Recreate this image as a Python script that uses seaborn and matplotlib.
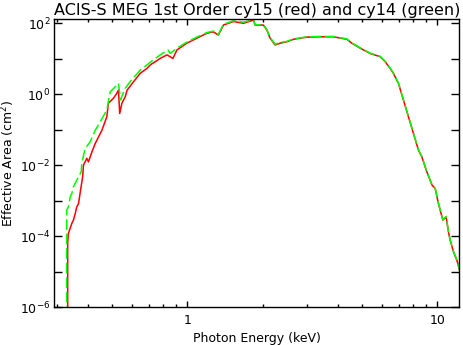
import numpy as np
import pandas as pd
import matplotlib
matplotlib.use('Agg')
import matplotlib.pyplot as plt
import seaborn as sns
from matplotlib.ticker import NullFormatter

# Effective area (energy in keV, log10 of area in cm^2)
energy_cy15 = [0.332, 0.332, 0.334, 0.345, 0.350, 0.356, 0.361, 0.367, 0.372, 0.381,
               0.384, 0.396, 0.402, 0.415, 0.428, 0.455, 0.476, 0.483, 0.506, 0.522,
               0.530, 0.536, 0.547, 0.564, 0.574, 0.609, 0.647, 0.689, 0.711, 0.778,
               0.828, 0.853, 0.875, 0.908, 0.995, 1.091, 1.196, 1.270, 1.330, 1.393,
               1.528, 1.675, 1.837, 1.866, 2.014, 2.078, 2.142, 2.243, 2.349, 2.498,
               2.655, 3.006, 3.396, 3.837, 4.342, 4.547, 4.909, 5.383, 5.902, 6.180,
               6.471, 6.668, 6.982, 7.311, 7.656, 8.017, 8.395, 8.665, 9.016, 9.506,
               9.795, 10.09, 10.51, 10.83, 11.07, 11.24, 11.59, 11.96, 12.3]
log_area_cy15 = [-8.0, -4.19, -3.92, -3.63, -3.54, -3.35, -3.17, -3.07, -2.79, -2.32,
                 -1.99, -1.80, -1.90, -1.62, -1.38, -1.01, -0.63, -0.25, -0.11, 0.03,
                 0.12, -0.54, -0.25, -0.07, 0.12, 0.355, 0.59, 0.73, 0.83, 1.01,
                 1.11, 1.06, 1.01, 1.25, 1.44, 1.58, 1.72, 1.76, 1.67, 1.95,
                 2.05, 2.00, 2.09, 1.95, 1.95, 1.81, 1.58, 1.39, 1.44, 1.48,
                 1.55, 1.61, 1.62, 1.62, 1.55, 1.44, 1.30, 1.15, 1.06, 0.92,
                 0.73, 0.59, 0.31, -0.16, -0.63, -1.10, -1.57, -1.76, -2.13, -2.55,
                 -2.65, -3.07, -3.54, -3.45, -3.87, -4.10, -4.43, -4.67, -4.98]

energy_cy14 = [0.329, 0.329, 0.334, 0.340, 0.345, 0.350, 0.367, 0.376, 0.378, 0.390,
               0.408, 0.428, 0.448, 0.476, 0.491, 0.514, 0.530, 0.540, 0.553, 0.564,
               0.590, 0.647, 0.731, 0.778, 0.835, 0.853, 0.908, 0.995, 1.091, 1.196,
               1.270, 1.330, 1.393, 1.528, 1.675, 1.837, 1.866, 2.014, 2.078, 2.142,
               2.243, 2.349, 2.498, 2.655, 3.006, 3.396, 3.837, 4.342, 4.547, 4.909,
               5.383, 5.902, 6.180, 6.471, 6.668, 6.982, 7.311, 7.656, 8.017, 8.395,
               8.665, 9.016, 9.506, 9.795, 10.09, 10.51, 10.83, 11.07, 11.24, 11.59,
               11.96, 12.3]
log_area_cy14 = [-8.0, -3.26, -3.17, -2.88, -2.79, -2.60, -2.32, -2.18, -1.94, -1.52,
                 -1.34, -1.01, -0.77, -0.44, 0.07, 0.21, 0.31, -0.16, 0.03, 0.17,
                 0.355, 0.68, 0.97, 1.11, 1.25, 1.15, 1.30, 1.47, 1.61, 1.74,
                 1.78, 1.69, 1.97, 2.07, 2.03, 2.10, 1.96, 1.96, 1.82, 1.60,
                 1.41, 1.46, 1.49, 1.56, 1.62, 1.63, 1.63, 1.56, 1.45, 1.31,
                 1.16, 1.07, 0.93, 0.74, 0.60, 0.32, -0.15, -0.62, -1.09, -1.56,
                 -1.75, -2.12, -2.54, -2.64, -3.06, -3.53, -3.44, -3.86, -4.09, -4.42,
                 -4.66, -4.97]

x_major = [1, 10]
x_major_labels = ['1', '10']
x_minor = [0.3, 0.4, 0.5, 0.6, 0.7, 0.8, 0.9, 2, 3, 4, 5, 6, 7, 8, 9]
y_major = [1e-6, 1e-4, 1e-2, 1e0, 1e2]
y_major_labels = [r'$10^{-6}$', r'$10^{-4}$', r'$10^{-2}$', r'$10^{0}$', r'$10^{2}$']
y_minor = [1e-5, 1e-3, 1e-1, 1e1]

cy15 = pd.DataFrame({'energy': energy_cy15, 'area': 10.0 ** np.array(log_area_cy15)})
cy14 = pd.DataFrame({'energy': energy_cy14, 'area': 10.0 ** np.array(log_area_cy14)})

sns.set_style('ticks')
plt.rcParams['font.family'] = ['DejaVu Sans']
plt.rcParams['text.color'] = 'black'
plt.rcParams['axes.labelcolor'] = 'black'

fig = plt.figure(figsize=(4.63, 3.45), dpi=100)
ax = fig.add_axes([0.1177, 0.1087, 0.8737, 0.8362])

sns.lineplot(data=cy15, x='energy', y='area', sort=False, estimator=None,
             color='#ff0000', lw=1.1, ax=ax)
sns.lineplot(data=cy14, x='energy', y='area', sort=False, estimator=None,
             color='#00ff00', lw=1.1, linestyle=(0, (7, 2.5)), ax=ax)

ax.set_xscale('log')
ax.set_yscale('log')
ax.set_xlim(0.294, 12.2)
ax.set_ylim(1e-6, 132)

ax.set_xticks(x_major, labels=x_major_labels)
ax.set_xticks(x_minor, minor=True)
ax.xaxis.set_minor_formatter(NullFormatter())
ax.set_yticks(y_major, labels=y_major_labels)
ax.set_yticks(y_minor, minor=True)
ax.yaxis.set_minor_formatter(NullFormatter())

ax.tick_params(which='both', direction='in', top=True, right=True,
               color='black', width=1.0, labelsize=9, labelcolor='black')
ax.tick_params(axis='x', which='major', length=4.3, pad=5)
ax.tick_params(axis='x', which='minor', length=2.5)
ax.tick_params(axis='y', which='both', length=5.8, pad=3)

for s in ax.spines.values():
    s.set_color('black')
    s.set_linewidth(1.0)

ax.set_title('ACIS-S MEG 1st Order cy15 (red) and cy14 (green)', fontsize=11.5,
             pad=3, color='black')
ax.set_xlabel('Photon Energy (keV)', fontsize=9, labelpad=3)
ax.set_ylabel('Effective Area (cm$^2$)', fontsize=9, labelpad=2)

fig.savefig('out.png', dpi=100, facecolor='white')
